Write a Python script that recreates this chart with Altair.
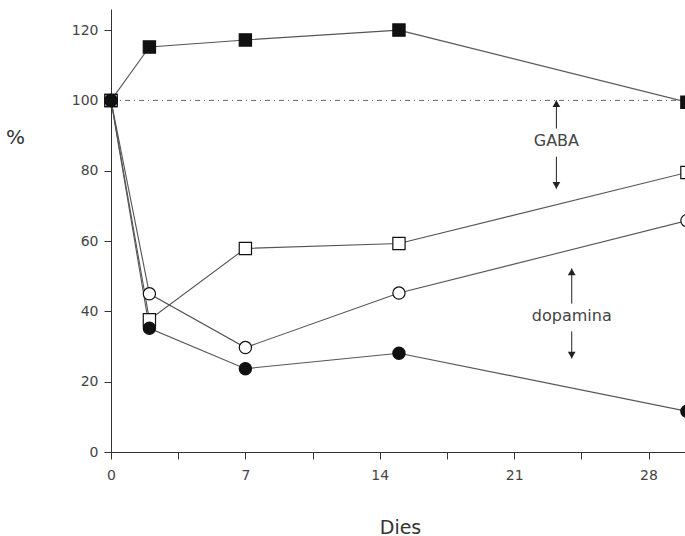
import altair as alt
import pandas as pd

# ---- data ----
days = [0, 2, 7, 15, 30]
gaba_filled = [100, 115.2, 117.2, 120.0, 99.5]
gaba_open = [100, 37.6, 57.9, 59.3, 79.5]
dopa_open = [100, 45.0, 29.7, 45.2, 65.8]
dopa_filled = [100, 35.2, 23.7, 28.1, 11.6]

series_names = ["GABA ple", "GABA buit", "dopamina buit", "dopamina ple"]
series_values = [gaba_filled, gaba_open, dopa_open, dopa_filled]
series_shapes = ["square", "square", "circle", "circle"]
series_fills = ["#111111", "#ffffff", "#ffffff", "#111111"]

x_ticks = [0, 3.5, 7, 10.5, 14, 17.5, 21, 24.5, 28]
y_ticks = [0, 10, 20, 30, 40, 50, 60, 70, 80, 90, 100, 110, 120]

ref_value = [100]

label_text = ["GABA", "dopamina"]
label_x = [23.2, 24.0]
label_y = [88.5, 38.8]

arrow_x = [23.2, 23.2, 24.0, 24.0]
arrow_tail = [92.0, 84.0, 42.2, 34.3]
arrow_head = [100.0, 74.9, 52.2, 26.6]
arrow_dir = ["up", "down", "up", "down"]

# ---- tables ----
rows = []
for name, vals in zip(series_names, series_values):
    for d, v in zip(days, vals):
        rows.append({"serie": name, "dia": d, "valor": v})
df = pd.DataFrame(rows)

ref_df = pd.DataFrame({"y": ref_value, "x1": [days[0]], "x2": [days[-1]]})
lab_df = pd.DataFrame({"t": label_text, "x": label_x, "y": label_y})
arr_df = pd.DataFrame({"x": arrow_x, "tail": arrow_tail, "head": arrow_head, "dir": arrow_dir})

FONT = "DejaVu Sans"
xscale = alt.Scale(domain=[0, 29.9], nice=False, zero=False)
yscale = alt.Scale(domain=[0, 126], nice=False)

x_axis = alt.Axis(values=x_ticks, labelExpr="datum.value % 7 == 0 ? datum.label : ''",
                  title="Dies", titleFontSize=19, titleFontWeight="normal", titleFont=FONT,
                  titleColor="#333", titleX=289, titleY=75, titleBaseline="middle",
                  titleAnchor="start", titleAlign="center", labelFlush=False,
                  tickSize=7, labelPadding=9, grid=False)
y_axis = alt.Axis(values=y_ticks, labelExpr="datum.value % 20 == 0 ? datum.label : ''",
                  title="%", titleAngle=0, titleFontSize=20, titleFontWeight="normal",
                  titleFont=FONT, titleColor="#333", titleX=-96, titleY=128,
                  titleAlign="center", titleBaseline="middle", titleAnchor="start",
                  labelFlush=False, tickSize=7, labelPadding=6, grid=False)

ref = alt.Chart(ref_df).mark_rule(color="#666", strokeWidth=1, strokeDash=[5, 4, 1, 4]).encode(
    x=alt.X("x1:Q", scale=xscale, axis=x_axis),
    x2="x2:Q",
    y=alt.Y("y:Q", scale=yscale, axis=y_axis),
)

lines = alt.Chart(df).mark_line(color="#555", strokeWidth=1.1).encode(
    x=alt.X("dia:Q", scale=xscale),
    y=alt.Y("valor:Q", scale=yscale),
    detail="serie:N",
    order="dia:Q",
)

pts = alt.Chart(df).mark_point(filled=True, stroke="#111", strokeWidth=1.2, opacity=1).encode(
    x=alt.X("dia:Q", scale=xscale),
    y=alt.Y("valor:Q", scale=yscale),
    shape=alt.Shape("serie:N", scale=alt.Scale(domain=series_names, range=series_shapes), legend=None),
    fill=alt.Fill("serie:N", scale=alt.Scale(domain=series_names, range=series_fills), legend=None),
    size=alt.value(150),
)

arr_lines = alt.Chart(arr_df).mark_rule(color="#222", strokeWidth=1).encode(
    x=alt.X("x:Q", scale=xscale),
    y=alt.Y("tail:Q", scale=yscale),
    y2="head:Q",
)

head_up = alt.Chart(arr_df).transform_filter(alt.datum.dir == "up").mark_point(
    shape="triangle-up", filled=True, color="#222", opacity=1, size=60, yOffset=3.3
).encode(
    x=alt.X("x:Q", scale=xscale),
    y=alt.Y("head:Q", scale=yscale),
)
head_down = alt.Chart(arr_df).transform_filter(alt.datum.dir == "down").mark_point(
    shape="triangle-down", filled=True, color="#222", opacity=1, size=60, yOffset=-3.3
).encode(
    x=alt.X("x:Q", scale=xscale),
    y=alt.Y("head:Q", scale=yscale),
)

labels = alt.Chart(lab_df).mark_text(font=FONT, fontSize=16, color="#444",
                                     align="center", baseline="middle").encode(
    x=alt.X("x:Q", scale=xscale),
    y=alt.Y("y:Q", scale=yscale),
    text="t:N",
)

chart = alt.layer(ref, lines, pts, arr_lines, head_up, head_down, labels).properties(
    width=574, height=443,
    autosize=alt.AutoSizeParams(type="none"),
    padding={"left": 111, "top": 9, "right": 0, "bottom": 84},
    background="white",
).configure_view(stroke=None).configure_axis(
    domainColor="#333", tickColor="#333", labelColor="#444", labelFont=FONT,
    labelFontSize=14, domainWidth=1, tickWidth=1,
)

chart.save("out.html", embed_options={"renderer": "svg", "actions": False})
